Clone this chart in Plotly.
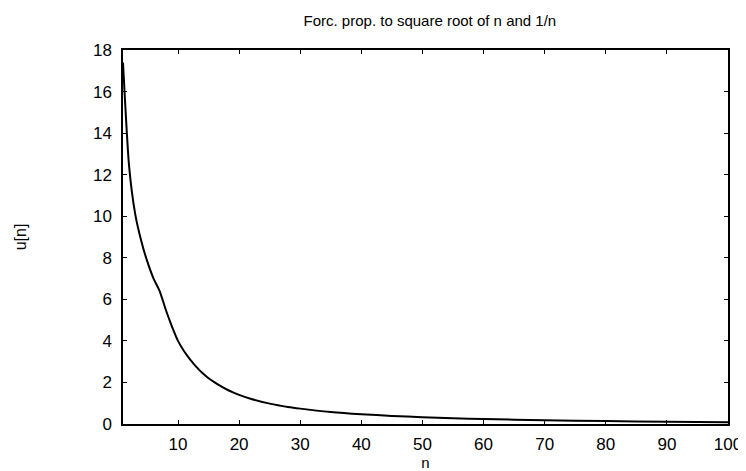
import plotly.graph_objects as go

n_vals = [1, 2, 3, 4, 5, 6, 7, 8, 9, 10, 11, 12, 13, 14, 15, 16, 17, 18, 19, 20,
          22, 25, 28, 30, 35, 40, 45, 50, 55, 60, 70, 80, 90, 100]
u_vals = [17.4, 12.4, 10.1, 8.8, 7.8, 7.0, 6.4, 5.5, 4.7, 4.0, 3.5, 3.1, 2.75, 2.45, 2.2, 2.0, 1.82, 1.66, 1.52, 1.4,
          1.2, 0.98, 0.82, 0.74, 0.58, 0.47, 0.39, 0.33, 0.28, 0.24, 0.18, 0.14, 0.11, 0.09]

x_ticks = [10, 20, 30, 40, 50, 60, 70, 80, 90, 100]
y_ticks = [0, 2, 4, 6, 8, 10, 12, 14, 16, 18]

fig = go.Figure()
fig.add_trace(go.Scatter(x=n_vals, y=u_vals, mode="lines",
                         line=dict(color="black", width=2, shape="spline", smoothing=0.6),
                         showlegend=False, hoverinfo="skip"))

fig.update_layout(
    width=746, height=471,
    margin=dict(l=113, r=16, t=42, b=48),
    paper_bgcolor="white", plot_bgcolor="white",
    font=dict(family="Liberation Sans, Arial, sans-serif", color="black", size=16),
    title=dict(text="Forc. prop. to square root of n and 1/n", x=0.5655, xanchor="center",
               y=0.972, yanchor="middle", font=dict(size=15)),
)
fig.update_xaxes(range=[1, 100], tickvals=x_ticks, ticktext=[str(v) for v in x_ticks],
                 ticks="inside", ticklen=4, tickcolor="black", showline=True, linecolor="black",
                 linewidth=1.5, mirror="ticks", showgrid=False, zeroline=False,
                 tickfont=dict(size=17), ticklabelstandoff=4,
                 title=dict(text="n", standoff=2, font=dict(size=15)))
fig.update_yaxes(range=[0, 18], tickvals=y_ticks, ticktext=[str(v) for v in y_ticks],
                 ticks="inside", ticklen=4, tickcolor="black", showline=True, linecolor="black",
                 linewidth=1.5, mirror="ticks", showgrid=False, zeroline=False,
                 tickfont=dict(size=17), ticklabelstandoff=6,
                 title=dict(text="u[n]", standoff=62, font=dict(size=16)))

fig.write_html("out.html")
